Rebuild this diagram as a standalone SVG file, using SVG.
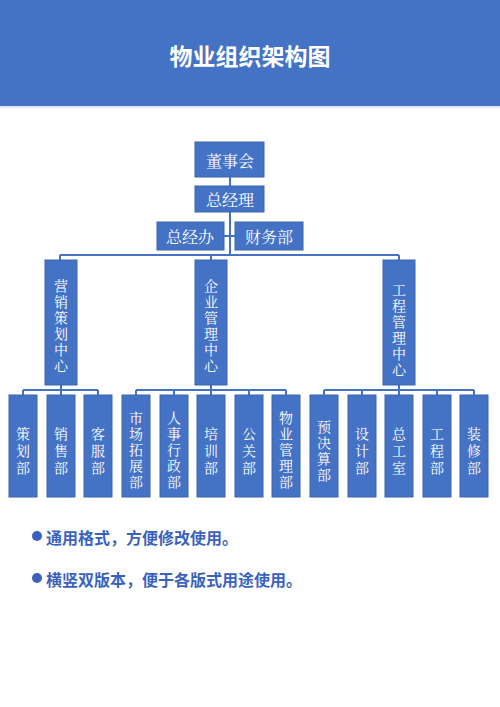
<svg xmlns="http://www.w3.org/2000/svg" width="500" height="707" viewBox="0 0 500 707">
<style>
.box{fill:#4472c4;stroke:#3b64ad;stroke-width:1}
.ln{stroke:#4472c4;stroke-width:2;fill:none}
.v{fill:#ffffff;font-family:"Noto Serif CJK SC","Noto Sans CJK SC",serif;font-size:14px;text-anchor:middle;writing-mode:vertical-rl;letter-spacing:2px}
.v3{letter-spacing:3px}
.th{fill:#ffffff;font-family:"Noto Serif CJK SC","Noto Sans CJK SC",serif;font-size:16px;text-anchor:middle;dominant-baseline:central}
.b{fill:#3a62bd;font-family:"Noto Sans CJK SC",sans-serif;font-size:16px;font-weight:bold;dominant-baseline:central}
</style>
<rect x="0" y="0" width="500" height="106" fill="#4472c4"/>
<rect x="0" y="106" width="500" height="2" fill="#dce6f5"/>
<text x="250" y="55" fill="#ffffff" font-family="'Noto Sans CJK SC',sans-serif" font-size="23" font-weight="bold" text-anchor="middle" dominant-baseline="central">物业组织架构图</text>
<g id="connectors">
<path class="ln" d="M230 177V255M60 255H399M60 255V260M211 255V260M399 255V260"/>
<path class="ln" d="M224 236H235"/>
<path class="ln" d="M61 385V390M23 390H98M23 390V395M61 390V395M98 390V395"/>
<path class="ln" d="M211 385V390M136 390H286M136 390V395M174 390V395M211 390V395M249 390V395M286 390V395"/>
<path class="ln" d="M399 385V390M324 390H474M324 390V395M362 390V395M399 390V395M437 390V395M474 390V395"/>
</g>
<g id="n-dongshihui"><rect class="box" x="195" y="142" width="69" height="35"/><text class="th" x="230" y="160">董事会</text></g>
<g id="n-zongjingli"><rect class="box" x="195" y="186" width="69" height="26"/><text class="th" x="230" y="199">总经理</text></g>
<g id="n-zongjingban"><rect class="box" x="157" y="222" width="67" height="28"/><text class="th" x="190" y="236">总经办</text></g>
<g id="n-caiwubu"><rect class="box" x="235" y="222" width="68" height="28"/><text class="th" x="269" y="236">财务部</text></g>
<g id="n-yingxiao"><rect class="box" x="45" y="260" width="32" height="125"/><text class="v" x="61" y="327">营销策划中心</text></g>
<g id="n-qiye"><rect class="box" x="195" y="260" width="32" height="125"/><text class="v" x="211" y="327">企业管理中心</text></g>
<g id="n-gongcheng"><rect class="box" x="383" y="260" width="32" height="125"/><text class="v" x="399" y="331">工程管理中心</text></g>
<g id="n-cehua"><rect class="box" x="9" y="395" width="28" height="102"/><text class="v v3" x="23" y="452">策划部</text></g>
<g id="n-xiaoshou"><rect class="box" x="47" y="395" width="28" height="102"/><text class="v v3" x="61" y="452">销售部</text></g>
<g id="n-kefu"><rect class="box" x="84" y="395" width="28" height="102"/><text class="v v3" x="98" y="452">客服部</text></g>
<g id="n-shichang"><rect class="box" x="122" y="395" width="28" height="102"/><text class="v" x="136" y="451">市场拓展部</text></g>
<g id="n-renshi"><rect class="box" x="160" y="395" width="28" height="102"/><text class="v" x="174" y="451">人事行政部</text></g>
<g id="n-peixun"><rect class="box" x="197" y="395" width="28" height="102"/><text class="v v3" x="211" y="452">培训部</text></g>
<g id="n-gongguan"><rect class="box" x="235" y="395" width="28" height="102"/><text class="v v3" x="249" y="452">公关部</text></g>
<g id="n-wuye"><rect class="box" x="272" y="395" width="28" height="102"/><text class="v" x="286" y="451">物业管理部</text></g>
<g id="n-yujuesuan"><rect class="box" x="310" y="395" width="28" height="102"/><text class="v" x="324" y="452">预决算部</text></g>
<g id="n-sheji"><rect class="box" x="348" y="395" width="28" height="102"/><text class="v v3" x="362" y="452">设计部</text></g>
<g id="n-zonggongshi"><rect class="box" x="385" y="395" width="28" height="102"/><text class="v v3" x="399" y="452">总工室</text></g>
<g id="n-gongchengbu"><rect class="box" x="423" y="395" width="28" height="102"/><text class="v v3" x="437" y="452">工程部</text></g>
<g id="n-zhuangxiu"><rect class="box" x="460" y="395" width="28" height="102"/><text class="v v3" x="474" y="452">装修部</text></g>
<circle cx="37" cy="536" r="5" fill="#3a62bd"/>
<text class="b" x="46" y="537">通用格式，方便修改使用。</text>
<circle cx="37" cy="578" r="5" fill="#3a62bd"/>
<text class="b" x="46" y="579">横竖双版本，便于各版式用途使用。</text>
</svg>
